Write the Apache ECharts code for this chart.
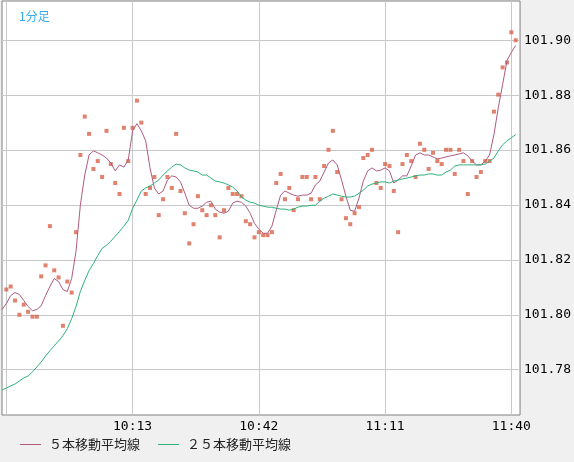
<!DOCTYPE html>
<html>
<head>
<meta charset="UTF-8">
<title>1分足</title>
<script src="https://cdn.jsdelivr.net/npm/echarts@6/dist/echarts.min.js"></script>
<style>
html, body { margin: 0; padding: 0; background: #f0f0f0; }
#main { width: 574px; height: 462px; }
</style>
</head>
<body>
<div id="main"></div>
<script>
// 1分足 終値 (9:44 〜 11:41)
var closes = [
    101.8092, 101.8103, 101.8052, 101.8000, 101.8037, 101.8011, 101.7993, 101.7993, 101.8140, 101.8180,
    101.8323, 101.8162, 101.8136, 101.7960, 101.8121, 101.8081, 101.8301, 101.8582, 101.8722, 101.8659,
    101.8531, 101.8560, 101.8502, 101.8670, 101.8549, 101.8480, 101.8440, 101.8681, 101.8560, 101.8681,
    101.8780, 101.8700, 101.8440, 101.8462, 101.8502, 101.8363, 101.8421, 101.8502, 101.8462, 101.8659,
    101.8451, 101.8370, 101.8260, 101.8330, 101.8432, 101.8381, 101.8363, 101.8399, 101.8363, 101.8282,
    101.8381, 101.8462, 101.8440, 101.8440, 101.8432, 101.8341, 101.8330, 101.8282, 101.8301, 101.8290,
    101.8290, 101.8301, 101.8480, 101.8513, 101.8421, 101.8462, 101.8381, 101.8421, 101.8502, 101.8502,
    101.8421, 101.8502, 101.8421, 101.8542, 101.8601, 101.8670, 101.8520, 101.8421, 101.8352, 101.8330,
    101.8370, 101.8392, 101.8571, 101.8582, 101.8601, 101.8480, 101.8462, 101.8549, 101.8542, 101.8451,
    101.8301, 101.8549, 101.8582, 101.8560, 101.8502, 101.8623, 101.8601, 101.8531, 101.8590, 101.8560,
    101.8549, 101.8601, 101.8601, 101.8513, 101.8601, 101.8560, 101.8440, 101.8560, 101.8502, 101.8520,
    101.8560, 101.8560, 101.8740, 101.8802, 101.8901, 101.8919, 101.9029, 101.9000
];

// ５本移動平均線 (9:43 〜 11:41)
var ma5 = [
    101.8019,
    101.8041, 101.8070, 101.8081, 101.8074, 101.8052, 101.8030, 101.8015, 101.8019, 101.8033, 101.8070,
    101.8103, 101.8132, 101.8121, 101.8092, 101.8085, 101.8132, 101.8231, 101.8399, 101.8509, 101.8582,
    101.8597, 101.8590, 101.8582, 101.8571, 101.8553, 101.8524, 101.8546, 101.8538, 101.8564, 101.8670,
    101.8696, 101.8670, 101.8634, 101.8535, 101.8462, 101.8440, 101.8451, 101.8491, 101.8506, 101.8502,
    101.8484, 101.8443, 101.8399, 101.8388, 101.8388, 101.8396, 101.8410, 101.8414, 101.8385, 101.8374,
    101.8370, 101.8377, 101.8407, 101.8414, 101.8410, 101.8396, 101.8370, 101.8333, 101.8312, 101.8297,
    101.8297, 101.8323, 101.8381, 101.8436, 101.8451, 101.8443, 101.8436, 101.8432, 101.8436, 101.8436,
    101.8443, 101.8473, 101.8487, 101.8520, 101.8553, 101.8564, 101.8546, 101.8491, 101.8432, 101.8381,
    101.8377, 101.8425, 101.8487, 101.8524, 101.8535, 101.8524, 101.8527, 101.8535, 101.8524, 101.8480,
    101.8491, 101.8506, 101.8506, 101.8542, 101.8582, 101.8590, 101.8582, 101.8582, 101.8575, 101.8568,
    101.8571, 101.8575, 101.8579, 101.8582, 101.8586, 101.8590, 101.8579, 101.8560, 101.8546, 101.8546,
    101.8560, 101.8582, 101.8656, 101.8754, 101.8839, 101.8926, 101.8956, 101.8981
];

// ２５本移動平均線 (9:43 〜 11:41)
var ma25 = [
    101.7726,
    101.7733, 101.7741, 101.7748, 101.7759, 101.7770, 101.7777, 101.7792, 101.7810, 101.7828, 101.7850,
    101.7869, 101.7887, 101.7905, 101.7924, 101.7949, 101.7986, 101.8030, 101.8085, 101.8125, 101.8161,
    101.8187, 101.8216, 101.8242, 101.8253, 101.8268, 101.8286, 101.8304, 101.8323, 101.8344, 101.8388,
    101.8418, 101.8451, 101.8462, 101.8469, 101.8480, 101.8491, 101.8509, 101.8524, 101.8538, 101.8549,
    101.8546, 101.8535, 101.8527, 101.8524, 101.8520, 101.8509, 101.8509, 101.8498, 101.8487, 101.8484,
    101.8480, 101.8473, 101.8465, 101.8451, 101.8429, 101.8418, 101.8410, 101.8407, 101.8399, 101.8396,
    101.8392, 101.8392, 101.8388, 101.8385, 101.8385, 101.8381, 101.8385, 101.8392, 101.8396, 101.8396,
    101.8399, 101.8399, 101.8414, 101.8425, 101.8432, 101.8440, 101.8436, 101.8432, 101.8429, 101.8429,
    101.8432, 101.8443, 101.8454, 101.8469, 101.8476, 101.8480, 101.8484, 101.8484, 101.8480, 101.8487,
    101.8491, 101.8495, 101.8498, 101.8502, 101.8506, 101.8509, 101.8509, 101.8513, 101.8513, 101.8509,
    101.8509, 101.8520, 101.8527, 101.8542, 101.8546, 101.8546, 101.8546, 101.8546, 101.8546, 101.8546,
    101.8549, 101.8560, 101.8571, 101.8597, 101.8619, 101.8634, 101.8645, 101.8656
];

var tickLabels = ['10:13', '10:42', '11:11', '11:40'];
var gridTimes = ['9:44', '10:13', '10:42', '11:11', '11:40'];
var yTicks = [101.78, 101.80, 101.82, 101.84, 101.86, 101.88, 101.90];

// カテゴリ 9:43 〜 11:42
var categories = [];
for (var m = 9 * 60 + 43; m <= 11 * 60 + 42; m++) {
    var mm = m % 60;
    categories.push(Math.floor(m / 60) + ':' + (mm < 10 ? '0' + mm : mm));
}

var closeData = [null].concat(closes);

var myChart = echarts.init(document.getElementById('main'));
myChart.setOption({
    backgroundColor: '#f0f0f0',
    animation: false,
    title: {
        text: '1分足',
        left: 14, top: 5,
        textStyle: { color: '#33aaee', fontSize: 12, fontWeight: 'normal', fontFamily: 'Noto Sans CJK JP' }
    },
    legend: {
        data: ['５本移動平均線', '２５本移動平均線'],
        left: 15, top: 433,
        icon: 'rect', itemWidth: 21, itemHeight: 1, itemGap: 18,
        textStyle: { color: '#222', fontSize: 13, fontFamily: 'Noto Sans CJK JP', padding: [0, 0, 0, 3] }
    },
    grid: {
        left: 2, right: 51, top: 1, bottom: 47,
        show: true, backgroundColor: '#ffffff', borderColor: '#808080', borderWidth: 1
    },
    xAxis: {
        type: 'category',
        boundaryGap: false,
        data: categories,
        axisLine: { show: false },
        axisTick: { show: false },
        axisLabel: {
            interval: function (i, v) { return tickLabels.indexOf(v) >= 0; },
            color: '#000', fontSize: 13, fontFamily: 'DejaVu Sans Mono', margin: 5
        },
        splitLine: {
            show: true,
            interval: function (i, v) { return gridTimes.indexOf(v) >= 0; },
            lineStyle: { color: '#c8c8c8', width: 1 }
        }
    },
    yAxis: {
        type: 'value',
        position: 'right',
        min: 101.7635,
        max: 101.9143,
        axisLine: { show: false },
        axisTick: { show: false, customValues: yTicks },
        axisLabel: {
            customValues: yTicks,
            formatter: function (v) { return v.toFixed(2); },
            color: '#000', fontSize: 13, fontFamily: 'DejaVu Sans Mono', margin: 4
        },
        splitLine: { show: true, lineStyle: { color: '#c8c8c8', width: 1 } }
    },
    series: [
        {
            name: '終値', type: 'scatter', data: closeData,
            symbol: 'rect', symbolSize: 4,
            itemStyle: { color: '#d9634a' }
        },
        {
            name: '５本移動平均線', type: 'line', data: ma5,
            showSymbol: false,
            lineStyle: { color: '#b05a80', width: 1 }, itemStyle: { color: '#b05a80' }
        },
        {
            name: '２５本移動平均線', type: 'line', data: ma25,
            showSymbol: false,
            lineStyle: { color: '#2db37a', width: 1 }, itemStyle: { color: '#2db37a' }
        }
    ]
});
</script>
</body>
</html>
